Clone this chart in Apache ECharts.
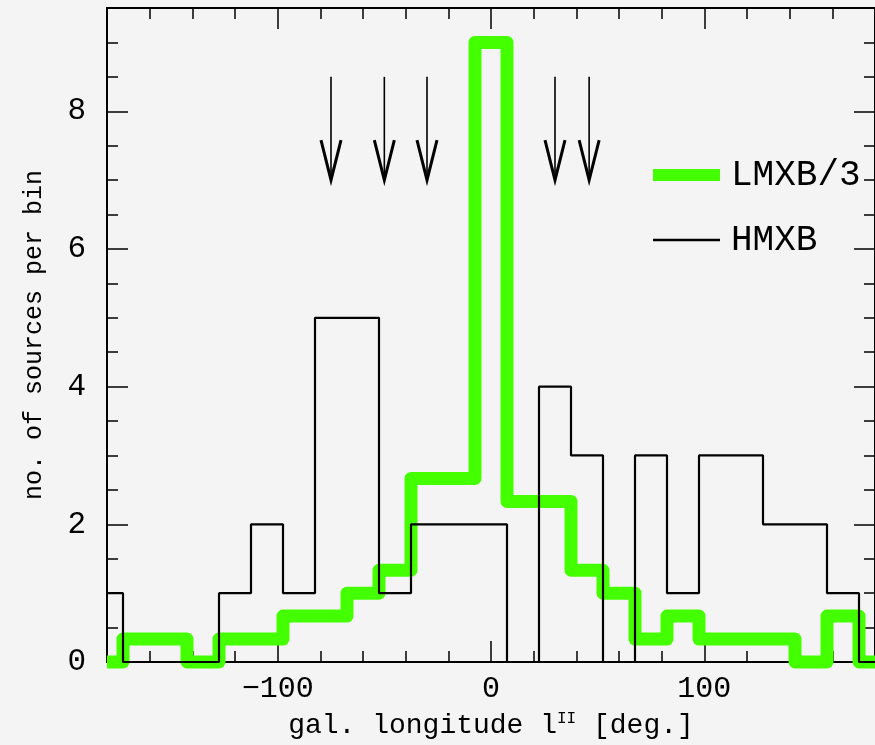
<!DOCTYPE html>
<html>
<head>
<meta charset="utf-8">
<script src="https://cdn.jsdelivr.net/npm/echarts@6/dist/echarts.min.js"></script>
<style>
html,body{margin:0;padding:0;background:#f4f4f4;}
#chart{width:875px;height:745px;}
</style>
</head>
<body>
<div id="chart"></div>
<script>
// ---- data ----
const binCenters = [-180,-165,-150,-135,-120,-105,-90,-75,-60,-45,-30,-15,0,15,30,45,60,75,90,105,120,135,150,165,180];
const hmxb       = [1,0,0,0,1,2,1,5,5,1,2,2,2,0,4,3,0,3,1,3,3,2,2,1,0];
const lmxbThird  = [0,0.333,0.333,0,0.333,0.333,0.667,0.667,1,1.333,2.667,2.667,9,2.333,2.333,1.333,1,0.333,0.667,0.333,0.333,0.333,0,0.667,0];
const arrowX     = [-75,-50,-30,30,46];
const arrowTop   = [8.5,8.5,8.5,8.5,8.5];
const arrowTip   = [7.0,7.0,7.0,7.0,7.0];
const xMajorTicks = [-100,0,100];
const xMinorTicks = [-160,-140,-120,-100,-80,-60,-40,-20,0,20,40,60,80,100,120,140,160];
const yMajorTicks = [0,2,4,6,8];
const yMinorTicks = [0.5,1,1.5,2,2.5,3,3.5,4,4.5,5,5.5,6,6.5,7,7.5,8,8.5,9];
const seriesNames = ['LMXB/3','HMXB'];

const FONT = 'Liberation Mono';
const xMin = -180, xMax = 180, yMin = 0, yMax = 9.5;

function xAxisDef(pos, ticks, len, labels, withLine) {
  return {
    type: 'value', position: pos, min: xMin, max: xMax, gridIndex: 0,
    axisLine: { show: withLine, onZero: false, lineStyle: { color: '#000', width: 2 } },
    axisTick: { show: true, inside: true, length: len, customValues: ticks, lineStyle: { color: '#000', width: 1.5 } },
    axisLabel: labels ? {
      show: true, customValues: labels, margin: 12, color: '#000', fontFamily: FONT, fontSize: 30,
      formatter: v => (v < 0 ? '\u2212' + Math.abs(v) : String(v))
    } : { show: false },
    splitLine: { show: false }
  };
}
function yAxisDef(pos, ticks, len, labels, withLine) {
  return {
    type: 'value', position: pos, min: yMin, max: yMax, gridIndex: 0,
    axisLine: { show: withLine, onZero: false, lineStyle: { color: '#000', width: 2 } },
    axisTick: { show: true, inside: true, length: len, customValues: ticks, lineStyle: { color: '#000', width: 1.5 } },
    axisLabel: labels ? {
      show: true, customValues: labels, margin: 21, color: '#000', fontFamily: FONT, fontSize: 31
    } : { show: false },
    splitLine: { show: false }
  };
}

const xAxes = [
  xAxisDef('bottom', xMinorTicks, 11, null, true),
  xAxisDef('bottom', xMajorTicks, 21, xMajorTicks, false),
  xAxisDef('top', xMinorTicks, 11, null, true),
  xAxisDef('top', xMajorTicks, 21, null, false)
];
xAxes[0].name = 'gal. longitude l{sup|II} [deg.]';
xAxes[0].nameLocation = 'middle';
xAxes[0].nameGap = 49;
xAxes[0].nameTextStyle = { color: '#000', fontFamily: FONT, fontSize: 28,
  rich: { sup: { fontFamily: FONT, fontSize: 16, color: '#000', padding: [0, 0, 14, 0] } } };

const yAxes = [
  yAxisDef('left', yMinorTicks, 11, null, true),
  yAxisDef('left', yMajorTicks, 21, yMajorTicks, false),
  yAxisDef('right', yMinorTicks, 11, null, true),
  yAxisDef('right', yMajorTicks, 21, null, false)
];
yAxes[0].name = 'no. of sources per bin';
yAxes[0].nameLocation = 'middle';
yAxes[0].nameGap = 60;
yAxes[0].nameTextStyle = { color: '#000', fontFamily: FONT, fontSize: 25 };

const chart = echarts.init(document.getElementById('chart'));
chart.setOption({
  backgroundColor: '#f4f4f4',
  animation: false,
  grid: { left: 107, top: 8, right: -4, bottom: 83, containLabel: false },
  xAxis: xAxes,
  yAxis: yAxes,
  legend: [
    { data: [seriesNames[0]], left: 653, top: 157, padding: 0, itemWidth: 67, itemHeight: 12, icon: 'rect',
      itemStyle: { borderWidth: 0 },
      textStyle: { color: '#000', fontFamily: FONT, fontSize: 36, padding: [0, 0, 12, 6] } },
    { data: [seriesNames[1]], left: 653, top: 222, padding: 0, itemWidth: 67, itemHeight: 2.5, icon: 'rect',
      itemStyle: { borderWidth: 0 },
      textStyle: { color: '#000', fontFamily: FONT, fontSize: 36, padding: [0, 0, 18, 6] } }
  ],
  series: [
    {
      name: seriesNames[0], type: 'line', step: 'middle', xAxisIndex: 0, yAxisIndex: 0,
      data: binCenters.map((x, i) => [x, lmxbThird[i]]),
      showSymbol: false, symbol: 'none', clip: false, z: 2,
      color: '#44ff00',
      lineStyle: { color: '#44ff00', width: 13, join: 'round', cap: 'butt' }
    },
    {
      name: seriesNames[1], type: 'line', step: 'middle', xAxisIndex: 0, yAxisIndex: 0,
      data: binCenters.map((x, i) => [x, hmxb[i]]),
      showSymbol: false, symbol: 'none', clip: false, z: 3,
      color: '#000',
      lineStyle: { color: '#000', width: 2.2 }
    },
    {
      type: 'custom', xAxisIndex: 0, yAxisIndex: 0, z: 4, silent: true, clip: false,
      data: arrowX.map((x, i) => [x, arrowTop[i], arrowTip[i]]),
      encode: { x: 0, y: [1, 2] },
      renderItem: function (params, api) {
        const top = api.coord([api.value(0), api.value(1)]);
        const tip = api.coord([api.value(0), api.value(2)]);
        return {
          type: 'group',
          children: [
            { type: 'line', shape: { x1: top[0], y1: top[1], x2: tip[0], y2: tip[1] },
              style: { stroke: '#000', lineWidth: 1.6 } },
            { type: 'polyline', shape: { points: [[tip[0] - 10, tip[1] - 40], [tip[0], tip[1]], [tip[0] + 10, tip[1] - 40]] },
              style: { stroke: '#000', fill: null, lineWidth: 3 } }
          ]
        };
      }
    }
  ]
});
</script>
</body>
</html>
